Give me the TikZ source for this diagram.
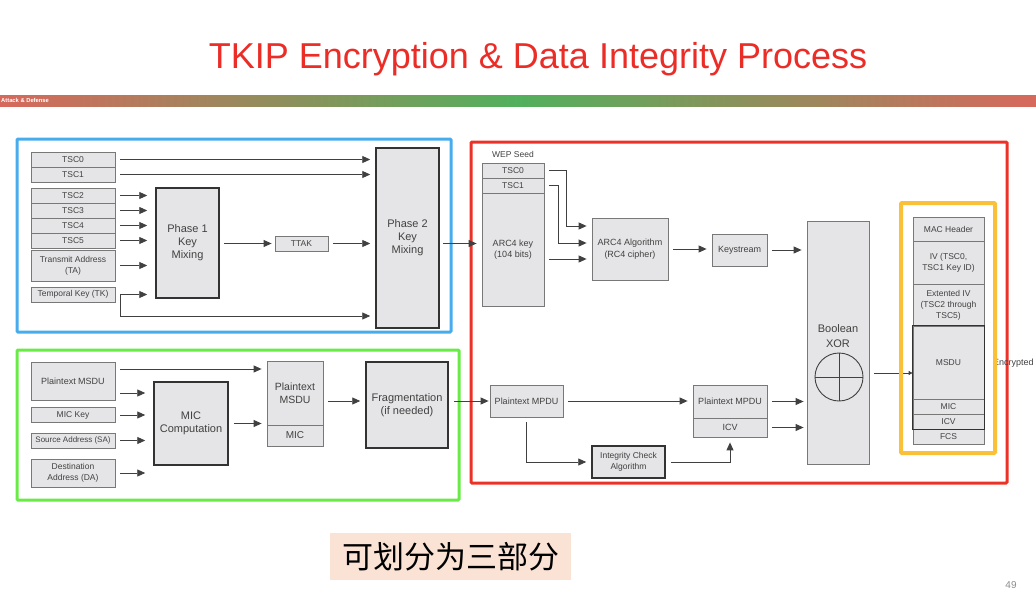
\documentclass[tikz,border=0pt]{standalone}
\usepackage{fontspec}
\setmainfont{Liberation Sans}
\newfontfamily\cjk{Noto Sans CJK SC}
\usetikzlibrary{arrows.meta}

\definecolor{boxfill}{RGB}{229,229,231}
\definecolor{boxline}{RGB}{120,120,120}
\definecolor{boxtext}{RGB}{65,65,65}
\definecolor{titlered}{RGB}{235,45,40}
\definecolor{frameblue}{RGB}{70,172,235}
\definecolor{framegreen}{RGB}{105,235,70}
\definecolor{framered}{RGB}{235,50,40}
\definecolor{frameyellow}{RGB}{250,192,55}
\definecolor{barred}{RGB}{215,104,92}
\definecolor{bargreen}{RGB}{82,176,92}
\definecolor{peach}{RGB}{250,226,212}

\tikzset{
  wh/.style 2 args={minimum width=#1pt, minimum height=#2pt},
  blk/.style={draw=boxline, fill=boxfill, text=boxtext, line width=0.8pt,
    inner sep=0pt, align=center, font=\fontsize{8.5}{11}\selectfont},
  mid/.style={blk, font=\fontsize{9}{11.5}\selectfont},
  big/.style={blk, draw=black!80, line width=1.5pt, font=\fontsize{11}{13}\selectfont},
  arr/.style={draw=black!75, line width=0.9pt, -{Triangle[length=8pt,width=7pt]},
    shorten <=5pt, shorten >=5pt},
  frame/.style={line width=3pt, rounded corners=1pt},
}

\begin{document}
\begin{tikzpicture}[x=1pt, y=-1pt]
\useasboundingbox (0,0) rectangle (1036,592);

% slide header
\node[anchor=base, text=titlered, font=\fontsize{36}{40}\selectfont] (title) at (538,68)
  {TKIP Encryption \& Data Integrity Process};
\shade[left color=barred, right color=barred, middle color=bargreen] (0,95) rectangle (1036,106);
\node[anchor=west, inner sep=1pt, text=white, font=\fontsize{5.8}{6}\selectfont\bfseries] (tag) at (0,100.5)
  {Attack \& Defense};

% the three parts
\draw[frame, frameblue] (17,139) rectangle (451,332);
\draw[frame, framegreen] (17,350) rectangle (459,500);
\draw[frame, framered] (471,142) rectangle (1007,483);

% key mixing
\foreach \i/\y in {0/159.5,1/174.5,2/195.5,3/210.5,4/225.5,5/240.5}
  \node[blk, wh={84}{15}] (tsc\i) at (73,\y) {TSC\i};
\node[blk, wh={84}{31}] (ta) at (73,265.5) {Transmit Address\\(TA)};
\node[blk, wh={84}{15}] (tk) at (73,294.5) {Temporal Key (TK)};
\node[big, wh={63}{110}] (ph1) at (187.5,243) {Phase 1\\Key\\Mixing};
\node[blk, wh={53}{15}] (ttak) at (301.5,243.5) {TTAK};
\node[big, wh={63}{180}] (ph2) at (407.5,238) {Phase 2\\Key\\Mixing};

\foreach \n in {tsc0,tsc1}
  \draw[arr] (\n.east) -- (ph2.west |- \n);
\foreach \n in {tsc2,tsc3,tsc4,tsc5,ta,tk}
  \draw[arr, shorten >=8pt] (\n.east) -- (ph1.west |- \n);
\draw[arr, shorten <=0pt] ([xshift=5pt]tk.east) |- (ph2.west |- 0,316);
\draw[arr, shorten <=4pt, shorten >=3pt] (ph1.east |- ttak) -- (ttak.west);
\draw[arr] (ttak.east) -- (ph2.west |- ttak);

% MIC
\node[mid, wh={84}{38}] (msdu1) at (73,381) {Plaintext MSDU};
\node[blk, wh={84}{15}] (mickey) at (73,415) {MIC Key};
\node[blk, wh={84}{15}, font=\fontsize{8}{10}\selectfont] (sa) at (73,440.5) {Source Address (SA)};
\node[blk, wh={84}{28}] (da) at (73,473) {Destination\\Address (DA)};
\node[big, wh={74}{83}] (micc) at (191,423.5) {MIC\\Computation};
\node[blk, wh={56}{64}, font=\fontsize{10.5}{13}\selectfont] (pm) at (295,393) {Plaintext\\MSDU};
\node[blk, wh={56}{21}, font=\fontsize{10}{12}\selectfont] (mic1) at (295,435.5) {MIC};
\node[big, wh={82}{86}] (frag) at (407,405) {Fragmentation\\(if needed)};

\coordinate (m1) at ([yshift=12pt]msdu1.east);
\coordinate (m2) at ([yshift=-12pt]msdu1.east);
\draw[arr] (m1) -- (m1 -| pm.west);
\draw[arr, shorten >=8pt] (m2) -- (m2 -| micc.west);
\foreach \n in {mickey,sa,da}
  \draw[arr, shorten >=8pt] (\n.east) -- (micc.west |- \n);
\draw[arr] (micc.east) -- (pm.west |- micc);

% WEP encryption
\node[text=boxtext, font=\fontsize{8.5}{10}\selectfont] (wep) at (513,154) {WEP Seed};
\node[blk, wh={62}{15}] (wtsc0) at (513,170.5) {TSC0};
\node[blk, wh={62}{15}] (wtsc1) at (513,185.5) {TSC1};
\node[mid, wh={62}{113}] (key) at (513,249.5) {ARC4 key\\(104 bits)};
\node[mid, wh={76}{62}] (alg) at (630,249) {ARC4 Algorithm\\(RC4 cipher)};
\node[mid, wh={55}{32}] (ks) at (739.5,250) {Keystream};
\node[blk, wh={62}{243}] (xor) at (838,342.5) {};
\node[text=boxtext, align=center, font=\fontsize{11}{15}\selectfont] (xorlbl) at (838,336) {Boolean\\XOR};
\node[circle, draw=boxtext, line width=0.9pt, minimum size=48pt, inner sep=0pt] (xorc) at (839,377) {};
\draw[boxtext, line width=0.9pt] (xorc.west) -- (xorc.east) (xorc.north) -- (xorc.south);

\node[mid, wh={73}{32}] (pmpdu) at (526.5,401) {Plaintext MPDU};
\node[mid, wh={74}{33}] (cmpdu) at (730,401.5) {Plaintext MPDU};
\node[mid, wh={74}{19}] (icv) at (730,427.5) {ICV};
\node[big, wh={73}{32}, font=\fontsize{8.5}{11}\selectfont] (ica) at (628.5,462) {Integrity Check\\Algorithm};

\draw[arr, shorten <=3pt] (ph2.east |- ttak) -- (key.west |- ttak);
\draw[arr] (wtsc0.east) -| (566,226) -- (alg.west |- 0,226);
\draw[arr] (wtsc1.east) -| (558,243) -- (alg.west |- 0,243);
\draw[arr] (key.east |- 0,259) -- (alg.west |- 0,259);
\draw[arr] (alg.east) -- (ks.west |- alg);
\draw[arr] (ks.east) -- (xor.west |- ks);
\draw[arr] (pm.east |- pmpdu) -- (frag.west |- pmpdu);
\draw[arr, shorten >=1pt] (frag.east |- pmpdu) -- (pmpdu.west);
\draw[arr] (pmpdu.east) -- (cmpdu.west |- pmpdu);
\draw[arr] (pmpdu.south) |- (ica.west);
\draw[arr] (ica.east) -| (icv.south);
\draw[arr, shorten >=3pt] (cmpdu.east) -- (xor.west |- cmpdu);
\draw[arr, shorten >=3pt] (icv.east) -- (xor.west |- icv);

% TKIP frame
\node[blk, wh={71}{24}] (mac) at (948.5,229) {MAC Header};
\node[blk, wh={71}{43}] (iv) at (948.5,262.5) {IV (TSC0,\\TSC1 Key ID)};
\node[blk, wh={71}{42}] (eiv) at (948.5,305) {Extented IV\\(TSC2 through\\TSC5)};
\node[blk, wh={71}{73}] (msdu) at (948.5,362.5) {MSDU};
\node[blk, wh={71}{15}] (mic2) at (948.5,406.5) {MIC};
\node[blk, wh={71}{15}] (icv2) at (948.5,421.5) {ICV};
\node[blk, wh={71}{15}] (fcs) at (948.5,436.5) {FCS};
\draw[black!80, line width=1.5pt] (msdu.north west) rectangle (icv2.south east);
\draw[draw=black!75, line width=0.8pt, -{Triangle[length=4pt,width=4pt]}, shorten <=5pt]
  (xor.east |- 0,373) -- (msdu.west |- 0,373);
\node[anchor=west, inner sep=0pt, text=boxtext, font=\fontsize{9}{11}\selectfont] (enc) at (993,363) {Encrypted};
\draw[frame, frameyellow, line width=4pt] (901,203) rectangle (995,453);

% note and page number
\fill[peach] (330,533) rectangle (571,580);
\node[font=\cjk\fontsize{31}{34}\selectfont] (note) at (450.5,557) {可划分为三部分};
\node[text=black!45, font=\fontsize{10}{12}\selectfont] (page) at (1011,585) {49};
\end{tikzpicture}
\end{document}
